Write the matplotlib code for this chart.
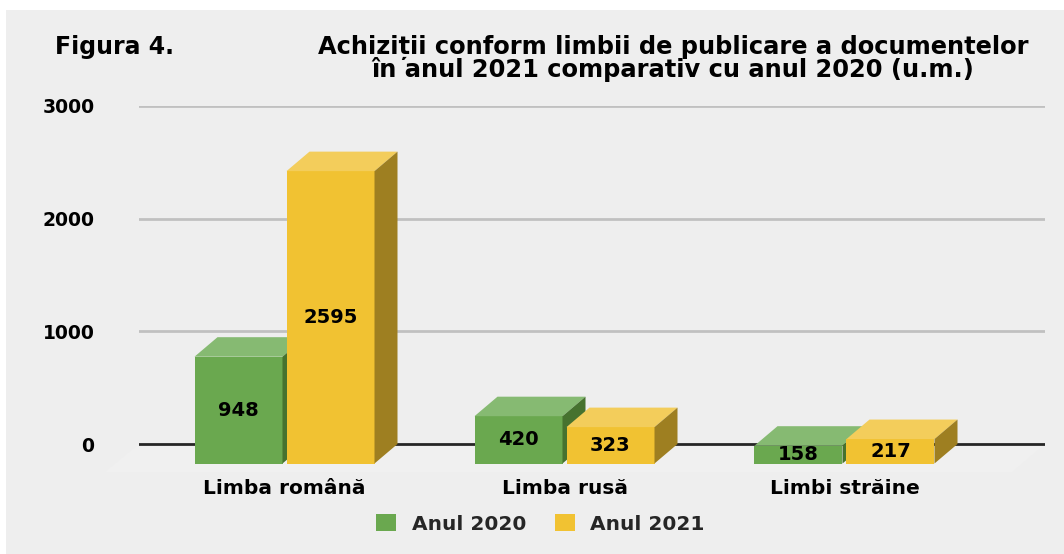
##Import pyplot and the patches to draw the 3D looking bars
import matplotlib.pyplot as plt
from matplotlib.patches import Polygon, Patch

##Data of the chart
categories = ['Limba română', 'Limba rusă', 'Limbi străine']
anul_2020 = [948, 420, 158]
anul_2021 = [2595, 323, 217]
series_names = ['Anul 2020', 'Anul 2021']
yticks = [0, 1000, 2000, 3000]

##Colors for the faces of the bars (front, top, side)
green = ['#6aa84f', '#86ba72', '#46722f']
yellow = ['#f1c232', '#f3cd5b', '#9e7f21']
bg = '#eeeeee'

W, H = 1064, 554
fig = plt.figure(figsize=(W / 100, H / 100), dpi=100, facecolor='white')
plt.rcParams['font.family'] = ['DejaVu Sans']

##Grey panel behind everything
fig.patches.append(plt.Rectangle((6 / W, 0), 1, 1 - 10 / H, transform=fig.transFigure,
                                 facecolor=bg, edgecolor='none', zorder=-10))

##Axes placed so the back wall fits the picture (0 at 444px, 3000 at 106px)
k = (444 - 106) / 3000
ax = fig.add_axes([139 / W, 1 - 480 / H, 906 / W, (480 - 106) / H])
ax.set_facecolor('none')
ax.set_ylim(-(480 - 444) / k, 3000)
ax.set_xlim((139 - 284.5) / 280, (1045 - 284.5) / 280)
for s in ax.spines.values():
    s.set_visible(False)

##Depth of the bars and size of the front faces
DX = 23 / 280
DY = 19.5 / k
BW = 88 / 280
GAP = 4 / 280

##Floor of the chart (very faint)
ax.add_patch(Polygon([((139 - 284.5) / 280, 0), ((1045 - 284.5) / 280, 0),
                      ((1012 - 284.5) / 280, -28 / k), ((105 - 284.5) / 280, -28 / k)],
                     closed=True, facecolor='#f0f0f0', edgecolor='none', zorder=0, clip_on=False))

##Gridlines, the zero line is darker
for t in yticks[1:]:
    ax.axhline(t, color='#c0c0c0', lw=2, zorder=1)
ax.axhline(0, color='#262626', lw=2, zorder=1)

ax.set_yticks(yticks)
ax.set_yticklabels([str(t) for t in yticks], fontsize=13.5, fontweight='bold')
ax.tick_params(axis='y', length=0, pad=32)
ax.set_xticks([])


def bar3d(x0, v, colors, z):
    ##front face through the bar function
    ax.bar(x0, v, width=BW, bottom=-DY, align='edge', color=colors[0], zorder=z, clip_on=False)
    ##top face
    ax.add_patch(Polygon([(x0, v - DY), (x0 + BW, v - DY), (x0 + BW + DX, v), (x0 + DX, v)],
                         closed=True, facecolor=colors[1], edgecolor='none', zorder=z, clip_on=False))
    ##side face
    ax.add_patch(Polygon([(x0 + BW, -DY), (x0 + BW + DX, 0), (x0 + BW + DX, v), (x0 + BW, v - DY)],
                         closed=True, facecolor=colors[2], edgecolor='none', zorder=z, clip_on=False))
    ax.text(x0 + BW / 2, v / 2 - DY, str(v), ha='center', va='center', fontsize=14,
            fontweight='bold', color='black', zorder=z + 1)


for i in range(len(categories)):
    bar3d(i - BW - GAP / 2, anul_2020[i], green, 3 + i * 4)
    bar3d(i + GAP / 2, anul_2021[i], yellow, 5 + i * 4)
    ax.text(i, -(489 - 444) / k, categories[i], ha='center', va='center', fontsize=14.5,
            fontweight='bold', color='black', clip_on=False)

##Titles
fig.text(55 / W, 1 - 47 / H, 'Figura 4.', ha='left', va='center', fontsize=17, fontweight='bold')
fig.text(673 / W, 1 - 47 / H, 'Achiziții conform limbii de publicare a documentelor',
         ha='center', va='center', fontsize=17.4, fontweight='bold')
fig.text(673 / W, 1 - 70 / H, 'în anul 2021 comparativ cu anul 2020 (u.m.)',
         ha='center', va='center', fontsize=17.4, fontweight='bold')

##Legend
handles = [Patch(facecolor=green[0]), Patch(facecolor=yellow[0])]
leg = fig.legend(handles, series_names, loc='center', bbox_to_anchor=(540.5 / W, 1 - 524 / H),
                 ncol=2, frameon=False, prop={'size': 14.5, 'weight': 'bold'},
                 handlelength=1.0, handleheight=0.9, handletextpad=0.75, columnspacing=1.45)
for t in leg.get_texts():
    t.set_color('#262626')

plt.savefig('out.png', dpi=100, facecolor='white')
